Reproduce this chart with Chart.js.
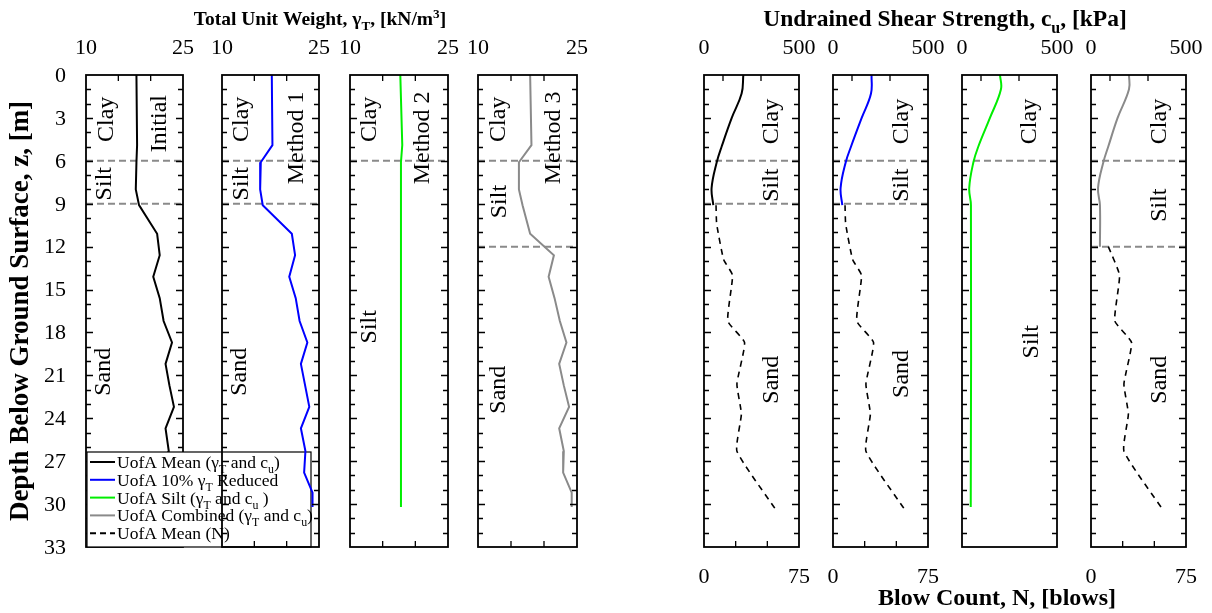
<!DOCTYPE html>
<html>
<head>
<meta charset="utf-8">
<script src="https://cdn.jsdelivr.net/npm/chart.js@4.4.0/dist/chart.umd.min.js"></script>
<style>
  body { margin: 0; background: #fff; }
  #wrap { position: relative; width: 1212px; height: 613px; }
  #wrap canvas { position: absolute; left: 0; top: 0; }
</style>
</head>
<body>
<div id="wrap"></div>
<script>
// ---------------- data ----------------
// unit weight profiles, depth in m, gamma in kN/m3
const depthGamma    = [0, 4.9, 6.1, 8, 9.1, 11.1, 12.6, 14.1, 15.6, 17.2, 18.7, 20.2, 21.7, 23.2, 24.7, 26.3, 27.8, 29.2, 30.2];
const gammaMean     = [17.8, 17.9, 17.8, 17.7, 18.2, 21.0, 21.4, 20.4, 21.4, 22.0, 23.3, 22.3, 22.9, 23.6, 22.3, 22.8, 22.7, 24.0, 24.0];
const gammaReduced  = [17.7, 17.8, 16.0, 15.9, 16.3, 20.8, 21.3, 20.4, 21.4, 22.0, 23.2, 22.2, 22.85, 23.5, 22.2, 22.9, 22.7, 24.0, 24.0];
const gammaCombined = [17.9, 18.1, 16.2, 16.2, 16.75, 17.9, 21.5, 20.7, 21.6, 22.4, 23.4, 22.3, 23.0, 23.8, 22.3, 23.0, 22.9, 24.2, 24.2];
const depthGammaSilt = [0, 4.9, 6.1, 30.2];
const gammaSilt      = [17.7, 18.0, 17.8, 17.8];

// undrained shear strength, kPa
const depthCu     = [0, 1.3, 3, 5, 6.1, 7.9, 9.1];
const cuMean      = [207, 198, 146, 93, 67, 40, 49];
const cuReduced   = [203, 200, 151, 95, 67, 40, 49];
const depthCuSilt = [0, 1, 3, 5, 6.1, 7.9, 9.1, 30.2];
const cuSilt      = [200, 205, 147, 86, 60, 38, 47, 46];
const depthCuComb = [0, 1, 3, 5, 6.1, 7.9, 9.1, 12];
const cuCombined  = [200, 200, 140, 91, 65, 37, 47, 47];

// SPT blow count
const depthN     = [9.1, 10.4, 12.9, 14.0, 17.2, 18.7, 21.6, 23.7, 26.3, 30.3];
const nMean      = [9.5, 10, 15.5, 22.5, 18.8, 32, 26, 29.5, 26, 56];
const depthNComb = [12, 14.0, 17.2, 18.7, 21.6, 23.7, 26.3, 30.3];
const nCombined  = [13.7, 22.5, 18.8, 32, 26, 29.5, 26, 56];

// layer boundaries (m)
const layersMean     = [6, 9];
const layersSilt     = [6];
const layersCombined = [6, 12];

// tick labels
const depthTickLabels = ['0', '3', '6', '9', '12', '15', '18', '21', '24', '27', '30', '33'];
const gammaTickLabels = ['10', '25'];
const cuTickLabels    = ['0', '500'];
const nTickLabels     = ['0', '75'];

const legendLabels = ['UofA Mean (γ_T and c_u)', 'UofA 10% γ_T Reduced', 'UofA Silt (γ_T and c_u )', 'UofA Combined (γ_T and c_u)', 'UofA Mean (N)'];

// ---------------- layout ----------------
const W = 1212, H = 613, TOP = 75, BOTTOM = 547;
const SERIF = '"Liberation Serif", "Times New Roman", serif';
const GREY = '#8a8a8a';
const wrap = document.getElementById('wrap');

// draws text with _x subscripts and ^x superscripts
function richText(ctx, str, x, y, size, bold, align) {
  const parts = [];
  for (let i = 0; i < str.length; i++) {
    const c = str[i];
    if ((c === '_' || c === '^') && i + 1 < str.length) {
      parts.push({ t: str[i + 1], m: c });
      i++;
    } else if (parts.length && parts[parts.length - 1].m === '') {
      parts[parts.length - 1].t += c;
    } else {
      parts.push({ t: c, m: '' });
    }
  }
  const b = bold ? 'bold ' : '';
  let total = 0;
  parts.forEach(p => {
    p.size = p.m ? size * 0.68 : size;
    ctx.font = b + p.size + 'px ' + SERIF;
    p.w = ctx.measureText(p.t).width;
    total += p.w;
  });
  let cx = align === 'center' ? x - total / 2 : (align === 'right' ? x - total : x);
  ctx.textAlign = 'left';
  ctx.textBaseline = 'alphabetic';
  parts.forEach(p => {
    ctx.font = b + p.size + 'px ' + SERIF;
    let dy = 0;
    if (p.m === '_') dy = size * 0.28;
    if (p.m === '^') dy = -size * 0.38;
    ctx.fillText(p.t, cx, y + dy);
    cx += p.w;
  });
}

function vText(ctx, str, x, y, font) {
  ctx.save();
  ctx.translate(x, y);
  ctx.rotate(-Math.PI / 2);
  ctx.font = font;
  ctx.textAlign = 'center';
  ctx.textBaseline = 'middle';
  ctx.fillText(str, 0, 0);
  ctx.restore();
}

const framePlugin = {
  id: 'frame',
  afterDatasetsDraw(chart) {
    const p = chart.config.options.panel;
    const ctx = chart.ctx;
    const a = chart.chartArea;
    const xs = chart.scales.x, ys = chart.scales.y;
    ctx.save();
    ctx.fillStyle = '#000';
    ctx.strokeStyle = '#000';

    // depth ticks on both sides, every metre
    ctx.lineWidth = 1.3;
    ctx.beginPath();
    for (let d = 1; d < 33; d++) {
      const py = Math.round(ys.getPixelForValue(d)) + 0.5;
      const len = d % 3 === 0 ? 7 : 5;
      ctx.moveTo(a.left, py); ctx.lineTo(a.left + len, py);
      ctx.moveTo(a.right, py); ctx.lineTo(a.right - len, py);
    }
    // top ticks
    p.topTicks.forEach(v => {
      const px = xs.getPixelForValue(v);
      ctx.moveTo(px, a.top); ctx.lineTo(px, a.top + 6);
    });
    // bottom ticks
    const bs = chart.scales[p.bottomAxis];
    p.bottomTicks.forEach(v => {
      const px = bs.getPixelForValue(v);
      ctx.moveTo(px, a.bottom); ctx.lineTo(px, a.bottom - 6);
    });
    ctx.stroke();

    // frame
    ctx.lineWidth = 1.8;
    ctx.strokeRect(a.left, a.top, a.right - a.left, a.bottom - a.top);

    // tick labels
    ctx.font = '22px ' + SERIF;
    ctx.textAlign = 'center';
    ctx.textBaseline = 'middle';
    ctx.fillText(p.topLabels[0], a.left, 48);
    ctx.fillText(p.topLabels[1], a.right, 48);
    if (p.bottomLabels) {
      ctx.fillText(p.bottomLabels[0], a.left, 577);
      ctx.fillText(p.bottomLabels[1], a.right, 577);
    }
    if (p.depthLabels) {
      ctx.textAlign = 'right';
      depthTickLabels.forEach(t => {
        ctx.fillText(t, 66, ys.getPixelForValue(Number(t)) + 1);
      });
    }

    // soil / method labels
    p.texts.forEach(t => {
      vText(ctx, t[0], xs.getPixelForValue(t[1]), ys.getPixelForValue(t[2]), '24px ' + SERIF);
    });

    if (p.extra) p.extra(ctx, chart);
    ctx.restore();
  },
  afterDraw(chart) {
    const p = chart.config.options.panel;
    if (p.legend) p.legend(chart.ctx, chart);
  }
};

function drawLegend(ctx) {
  const colors = ['#000', '#0000ff', '#00ee00', GREY, '#000'];
  const x0 = 87, y0 = 452, x1 = 311, y1 = 547;
  ctx.save();
  ctx.fillStyle = '#fff';
  ctx.fillRect(x0, y0, x1 - x0, y1 - y0);
  ctx.strokeStyle = '#000';
  ctx.lineWidth = 1.2;
  ctx.strokeRect(x0, y0, x1 - x0, y1 - y0);
  legendLabels.forEach((lab, i) => {
    const cy = 462 + i * 17.8;
    ctx.strokeStyle = colors[i];
    ctx.lineWidth = 2;
    ctx.setLineDash(i === 4 ? [6, 4] : []);
    ctx.beginPath();
    ctx.moveTo(90, cy); ctx.lineTo(115, cy);
    ctx.stroke();
    ctx.setLineDash([]);
    ctx.fillStyle = '#000';
    richText(ctx, lab, 117, cy + 6, 17.5, false, 'left');
  });
  ctx.restore();
}

function leftTitles(ctx) {
  ctx.fillStyle = '#000';
  richText(ctx, 'Total Unit Weight, γ_T, [kN/m^3]', 320, 25, 19.5, true, 'center');
  vText(ctx, 'Depth Below Ground Surface, z, [m]', 21, 311, 'bold 27px ' + SERIF);
}
function rightTitles(ctx) {
  ctx.fillStyle = '#000';
  richText(ctx, 'Undrained Shear Strength, c_u, [kPa]', 945, 26, 23.5, true, 'center');
  richText(ctx, 'Blow Count, N, [blows]', 997, 605, 24, true, 'center');
}

// ---------------- panels ----------------
const BLUE = '#0000ff', GREEN = '#00ee00';
const panels = [
  { left: 86, right: 183, xMin: 10, xMax: 25, topLabels: gammaTickLabels, topTicks: [15, 20], bottomAxis: 'x', bottomTicks: [15, 20],
    series: [{ depth: depthGamma, values: gammaMean, color: '#000' }], layers: layersMean, depthLabels: true,
    texts: [['Clay', 13.2, 3.1], ['Initial', 21.4, 3.4], ['Silt', 12.9, 7.6], ['Sand', 12.8, 20.75]],
    extra: leftTitles, legend: drawLegend },
  { left: 222, right: 319, xMin: 10, xMax: 25, topLabels: gammaTickLabels, topTicks: [15, 20], bottomAxis: 'x', bottomTicks: [15, 20],
    series: [{ depth: depthGamma, values: gammaReduced, color: BLUE }], layers: layersMean,
    texts: [['Clay', 13.0, 3.1], ['Method 1', 21.5, 4.4], ['Silt', 13.0, 7.6], ['Sand', 12.8, 20.75]] },
  { left: 350, right: 448, xMin: 10, xMax: 25, topLabels: gammaTickLabels, topTicks: [15, 20], bottomAxis: 'x', bottomTicks: [15, 20],
    series: [{ depth: depthGammaSilt, values: gammaSilt, color: GREEN }], layers: layersSilt,
    texts: [['Clay', 13.0, 3.1], ['Method 2', 21.1, 4.4], ['Silt', 13.0, 17.6]] },
  { left: 478, right: 577, xMin: 10, xMax: 25, topLabels: gammaTickLabels, topTicks: [15, 20], bottomAxis: 'x', bottomTicks: [15, 20],
    series: [{ depth: depthGamma, values: gammaCombined, color: GREY }], layers: layersCombined,
    texts: [['Clay', 13.1, 3.1], ['Method 3', 21.4, 4.4], ['Silt', 13.3, 8.85], ['Sand', 13.1, 22]] },
  { left: 704, right: 799, xMin: 0, xMax: 500, topLabels: cuTickLabels, topTicks: [100, 300], bottomAxis: 'x2', bottomTicks: [25, 50], bottomLabels: nTickLabels,
    series: [{ depth: depthCu, values: cuMean, color: '#000', tension: 0.4 },
             { depth: depthN, values: nMean, color: '#000', axis: 'x2', dash: [6, 5], width: 1.6, tension: 0.15 }],
    layers: layersMean,
    texts: [['Clay', 356, 3.25], ['Silt', 356, 7.7], ['Sand', 356, 21.3]], extra: rightTitles },
  { left: 833, right: 928, xMin: 0, xMax: 500, topLabels: cuTickLabels, topTicks: [100, 300], bottomAxis: 'x2', bottomTicks: [25, 50], bottomLabels: nTickLabels,
    series: [{ depth: depthCu, values: cuReduced, color: BLUE, tension: 0.4 },
             { depth: depthN, values: nMean, color: '#000', axis: 'x2', dash: [6, 5], width: 1.6, tension: 0.15 }],
    layers: layersMean,
    texts: [['Clay', 361, 3.25], ['Silt', 361, 7.7], ['Sand', 361, 20.9]] },
  { left: 962, right: 1057, xMin: 0, xMax: 500, topLabels: cuTickLabels, topTicks: [100, 300], bottomAxis: 'x2', bottomTicks: [],
    series: [{ depth: depthCuSilt, values: cuSilt, color: GREEN, tension: 0.4 }],
    layers: layersSilt,
    texts: [['Clay', 358, 3.25], ['Silt', 367, 18.65]] },
  { left: 1091, right: 1186, xMin: 0, xMax: 500, topLabels: cuTickLabels, topTicks: [100, 300], bottomAxis: 'x2', bottomTicks: [25, 50], bottomLabels: nTickLabels,
    series: [{ depth: depthCuComb, values: cuCombined, color: GREY, tension: 0.4 },
             { depth: depthNComb, values: nCombined, color: '#000', axis: 'x2', dash: [6, 5], width: 1.6, tension: 0.15 }],
    layers: layersCombined,
    texts: [['Clay', 360, 3.25], ['Silt', 363, 9.1], ['Sand', 360, 21.3]] }
];

panels.forEach(p => {
  const canvas = document.createElement('canvas');
  canvas.width = W;
  canvas.height = H;
  wrap.appendChild(canvas);

  const datasets = [];
  p.series.forEach(s => {
    datasets.push({
      data: s.depth.map((d, i) => ({ x: s.values[i], y: d })),
      xAxisID: s.axis || 'x',
      borderColor: s.color,
      borderWidth: s.width || 2,
      borderDash: s.dash || [],
      tension: s.tension || 0,
      showLine: true,
      pointRadius: 0,
      fill: false
    });
  });
  p.layers.forEach(d => {
    datasets.push({
      data: [{ x: p.xMin, y: d }, { x: p.xMax, y: d }],
      borderColor: GREY,
      borderWidth: 2,
      borderDash: [7, 4],
      showLine: true,
      pointRadius: 0
    });
  });

  new Chart(canvas, {
    type: 'scatter',
    data: { datasets: datasets },
    options: {
      panel: p,
      responsive: false,
      animation: false,
      events: [],
      layout: { padding: { left: p.left, right: W - p.right, top: TOP, bottom: H - BOTTOM } },
      scales: {
        x: { type: 'linear', min: p.xMin, max: p.xMax, display: false },
        x2: { type: 'linear', min: 0, max: 75, display: false },
        y: { type: 'linear', min: 0, max: 33, reverse: true, display: false }
      },
      plugins: { legend: { display: false }, tooltip: { enabled: false } }
    },
    plugins: [framePlugin]
  });
});
</script>
</body>
</html>
